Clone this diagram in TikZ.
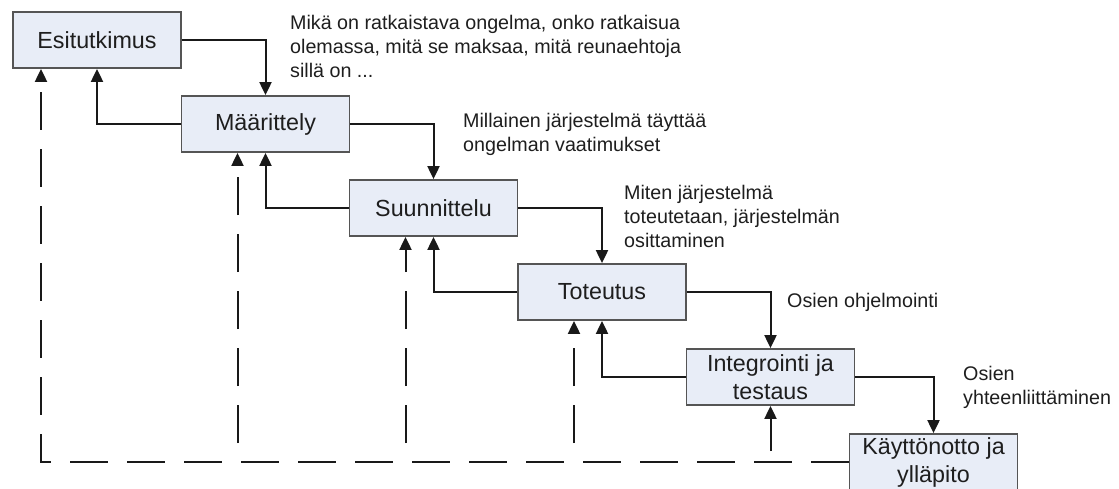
\documentclass[tikz,border=0pt]{standalone}
\usepackage{fontspec}
\setmainfont{Liberation Sans}
\usetikzlibrary{arrows.meta}
\definecolor{boxfill}{RGB}{232,237,247}
\definecolor{boxline}{RGB}{85,85,85}
\definecolor{inkline}{RGB}{25,25,25}
\definecolor{txt}{RGB}{30,30,30}
\tikzset{
  phase/.style={draw=boxline, line width=1.8pt, fill=boxfill,
    minimum width=168pt, minimum height=56pt, inner sep=0pt,
    align=center, text=txt,
    font=\fontsize{23.3pt}{28pt}\selectfont},
  note/.style={anchor=west, align=left, inner sep=0pt, text=txt,
    font=\fontsize{19.7pt}{24pt}\selectfont},
  flow/.style={draw=inkline, line width=2pt,
    -{Triangle[length=13pt,width=12pt]}},
  back/.style={flow},
  dashline/.style={flow, dash pattern=on 38pt off 19pt},
}
\begin{document}
\begin{tikzpicture}[x=1pt, y=-1pt]
  \useasboundingbox (0,0) rectangle (1119,488);
  \clip (0,0) rectangle (1119,488);

  % phases of the waterfall
  \node[phase] (esi) at (97,40)    {Esitutkimus};
  \node[phase] (maa) at (265.5,124) {Määrittely};
  \node[phase] (suu) at (433.5,208) {Suunnittelu};
  \node[phase] (tot) at (602,292)   {Toteutus};
  \node[phase] (int) at (770.5,377) {Integrointi ja\\testaus};
  \node[phase] (kay) at (933.5,462) {Käyttönotto ja\\ylläpito};

  % descriptions of each step
  \node[note] (n1) at (290,46)  {Mikä on ratkaistava ongelma, onko ratkaisua\\olemassa, mitä se maksaa, mitä reunaehtoja\\sillä on ...};
  \node[note] (n2) at (463,134) {Millainen järjestelmä täyttää\\ongelman vaatimukset};
  \node[note] (n3) at (624,216) {Miten järjestelmä\\toteutetaan, järjestelmän\\osittaminen};
  \node[note] (n4) at (787,302) {Osien ohjelmointi};
  \node[note] (n5) at (963,387) {Osien\\yhteenliittäminen};

  % forward flow
  \draw[flow] (esi.east) -| (maa.north);
  \draw[flow] (maa.east) -| (suu.north);
  \draw[flow] (suu.east) -| (tot.north);
  \draw[flow] (tot.east) -| (int.north);
  \draw[flow] (int.east) -| (kay.north);

  % return to the previous phase
  \draw[back] (maa.west) -| (esi.south);
  \draw[back] (suu.west) -| (maa.south);
  \draw[back] (tot.west) -| (suu.south);
  \draw[back] (int.west) -| (tot.south);

  % feedback from maintenance
  \coordinate (d0) at ([xshift=-56pt]esi.south);
  \coordinate (d1) at ([xshift=-28pt]maa.south);
  \coordinate (d2) at ([xshift=-28pt]suu.south);
  \coordinate (d3) at ([xshift=-28pt]tot.south);
  \coordinate (b1) at (d1 |- kay.west);
  \coordinate (b2) at (d2 |- kay.west);
  \coordinate (b3) at (d3 |- kay.west);
  \coordinate (b4) at (int.south |- kay.west);

  \draw[dashline] (kay.west) -| (d0);
  \draw[dashline, dash phase=38pt] (b1) -- (d1);
  \draw[dashline, dash phase=38pt] (b2) -- (d2);
  \draw[dashline, dash phase=38pt] (b3) -- (d3);
  \draw[dashline, dash phase=46pt] (b4) -- (int.south);
\end{tikzpicture}
\end{document}
